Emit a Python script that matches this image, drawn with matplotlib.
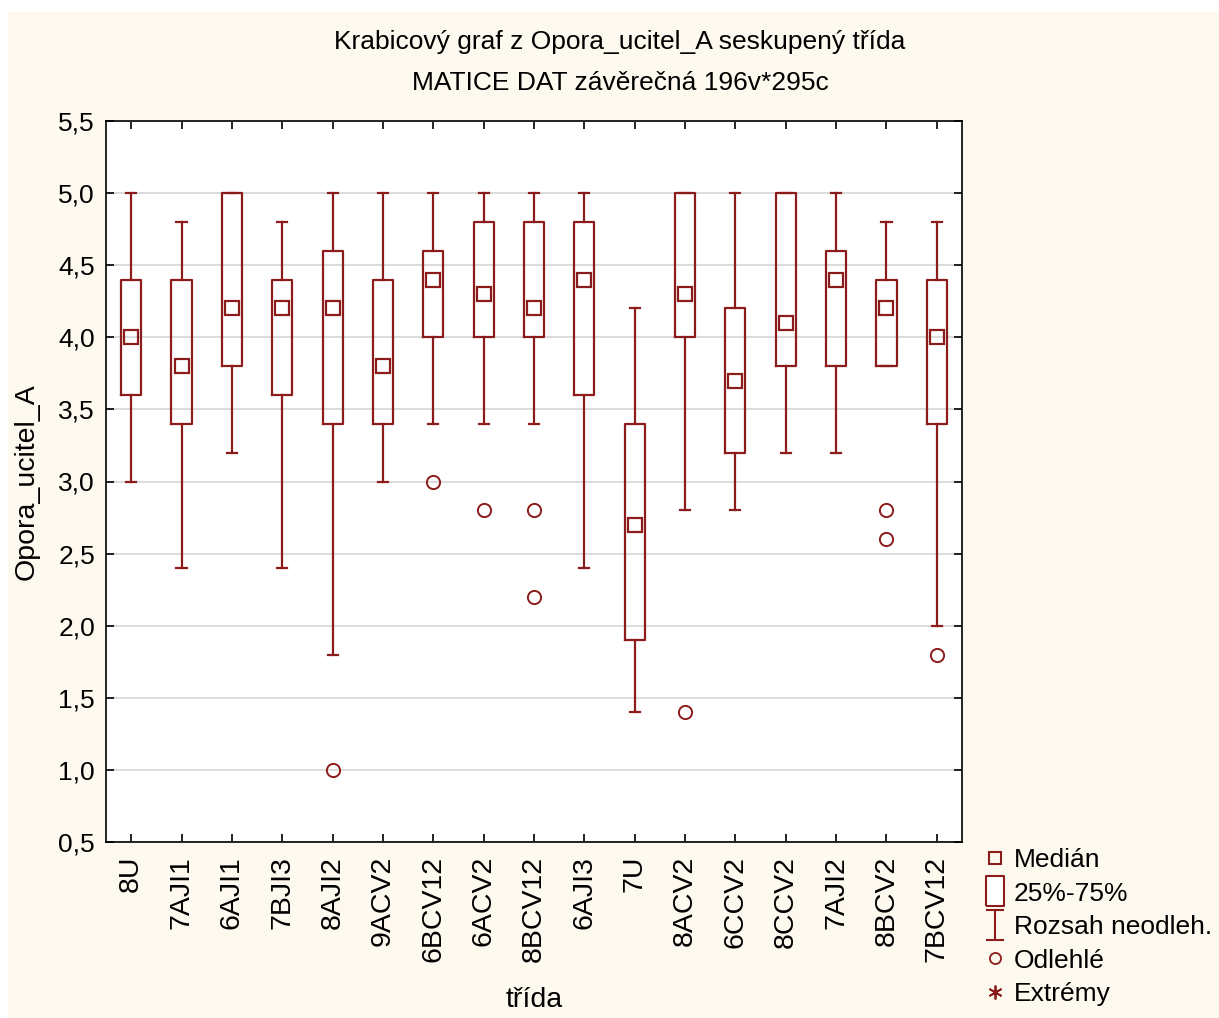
import matplotlib
matplotlib.use("Agg")
import matplotlib.pyplot as plt
from matplotlib.lines import Line2D
from matplotlib.patches import Rectangle
from matplotlib.path import Path

plt.rcParams["font.family"] = ["Liberation Sans", "DejaVu Sans"]

# data
classes = ["8U", "7AJI1", "6AJI1", "7BJI3", "8AJI2", "9ACV2", "6BCV12", "6ACV2", "8BCV12",
           "6AJI3", "7U", "8ACV2", "6CCV2", "8CCV2", "7AJI2", "8BCV2", "7BCV12"]
medians = [4.0, 3.8, 4.2, 4.2, 4.2, 3.8, 4.4, 4.3, 4.2, 4.4, 2.7, 4.3, 3.7, 4.1, 4.4, 4.2, 4.0]
q1 = [3.6, 3.4, 3.8, 3.6, 3.4, 3.4, 4.0, 4.0, 4.0, 3.6, 1.9, 4.0, 3.2, 3.8, 3.8, 3.8, 3.4]
q3 = [4.4, 4.4, 5.0, 4.4, 4.6, 4.4, 4.6, 4.8, 4.8, 4.8, 3.4, 5.0, 4.2, 5.0, 4.6, 4.4, 4.4]
whisk_lo = [3.0, 2.4, 3.2, 2.4, 1.8, 3.0, 3.4, 3.4, 3.4, 2.4, 1.4, 2.8, 2.8, 3.2, 3.2, 3.8, 2.0]
whisk_hi = [5.0, 4.8, 5.0, 4.8, 5.0, 5.0, 5.0, 5.0, 5.0, 5.0, 4.2, 5.0, 5.0, 5.0, 5.0, 4.8, 4.8]
outliers = [[], [], [], [], [1.0], [], [3.0], [2.8], [2.8, 2.2],
            [], [], [1.4], [], [], [], [2.8, 2.6], [1.8]]
yticks = [0.5, 1.0, 1.5, 2.0, 2.5, 3.0, 3.5, 4.0, 4.5, 5.0, 5.5]

red = "#8c1c1c"
cream = "#fef9ee"

fig = plt.figure(figsize=(12.19, 10.18), dpi=100)
fig.patch.set_facecolor("white")
fig.patches.append(Rectangle((8 / 1219, 0), 1, 1 - 12 / 1018, transform=fig.transFigure,
                             facecolor=cream, edgecolor="none", zorder=-10))

ax = fig.add_axes([106 / 1219, 1 - 842 / 1018, 856 / 1219, 721 / 1018])
ax.set_facecolor("white")

stats = []
for i in range(len(classes)):
    stats.append({"med": medians[i], "q1": q1[i], "q3": q3[i],
                  "whislo": whisk_lo[i], "whishi": whisk_hi[i], "fliers": outliers[i]})

pos = list(range(1, len(classes) + 1))
ax.bxp(stats, positions=pos, widths=0.4, capwidths=0.2, showfliers=True,
       boxprops=dict(color=red, linewidth=1.6),
       whiskerprops=dict(color=red, linewidth=1.6),
       capprops=dict(color=red, linewidth=1.6),
       medianprops=dict(linewidth=0),
       flierprops=dict(marker="o", markersize=9.5, markerfacecolor="none",
                       markeredgecolor=red, markeredgewidth=1.4),
       zorder=3)
ax.plot(pos, medians, linestyle="none", marker="s", markersize=10,
        markerfacecolor="none", markeredgecolor=red, markeredgewidth=1.6, zorder=4)

ax.set_xlim(0.5, len(classes) + 0.5)
ax.set_ylim(0.5, 5.5)
ax.set_yticks(yticks)
ax.set_yticklabels([f"{v:.1f}".replace(".", ",") for v in yticks], fontsize=19)
ax.set_xticks(pos)
ax.set_xticklabels(classes, rotation=90, fontsize=20.5)
ax.tick_params(direction="in", length=6, width=1.2, top=True, right=True, pad=10)
ax.tick_params(axis="y", pad=8)
ax.grid(axis="y", color="#d9d9d9", linewidth=1.3, zorder=0)
ax.set_axisbelow(True)
for s in ax.spines.values():
    s.set_linewidth(1.2)

ax.set_ylabel("Opora_ucitel_A", fontsize=20.5, labelpad=13)
ax.set_xlabel("třída", fontsize=20.5, labelpad=18)
fig.text(620 / 1219, 1 - 42 / 1018, "Krabicový graf z Opora_ucitel_A seskupený třída",
         ha="center", va="center", fontsize=19)
fig.text(620 / 1219, 1 - 83 / 1018, "MATICE DAT závěrečná 196v*295c",
         ha="center", va="center", fontsize=19)

# legend symbols
tall_rect = Path([(-0.6, -1), (0.6, -1), (0.6, 1), (-0.6, 1), (-0.6, -1)])
whisker = Path([(-0.6, 1), (0.6, 1), (0, 1), (0, -1), (-0.6, -1), (0.6, -1)],
               [Path.MOVETO, Path.LINETO, Path.MOVETO, Path.LINETO, Path.MOVETO, Path.LINETO])
handles = [
    Line2D([], [], linestyle="none", marker="s", markersize=8, markerfacecolor="none",
           markeredgecolor=red, markeredgewidth=1.5),
    Line2D([], [], linestyle="none", marker=tall_rect, markersize=21, markerfacecolor="white",
           markeredgecolor=red, markeredgewidth=1.5),
    Line2D([], [], linestyle="none", marker=whisker, markersize=21, markerfacecolor="none",
           markeredgecolor=red, markeredgewidth=1.5),
    Line2D([], [], linestyle="none", marker="o", markersize=8, markerfacecolor="none",
           markeredgecolor=red, markeredgewidth=1.3),
    Line2D([], [], linestyle="none", marker=(6, 2, 0), markersize=10, markerfacecolor="none",
           markeredgecolor=red, markeredgewidth=1.3),
]
labels = ["Medián", "25%-75%", "Rozsah neodleh.", "Odlehlé", "Extrémy"]
fig.legend(handles, labels, loc="upper left", bbox_to_anchor=(969 / 1219, 1 - 835 / 1018),
           frameon=False, fontsize=19, handlelength=1.0, handletextpad=0.2,
           labelspacing=0.36, borderpad=0)

fig.savefig("out.png", dpi=100, facecolor=fig.get_facecolor())
